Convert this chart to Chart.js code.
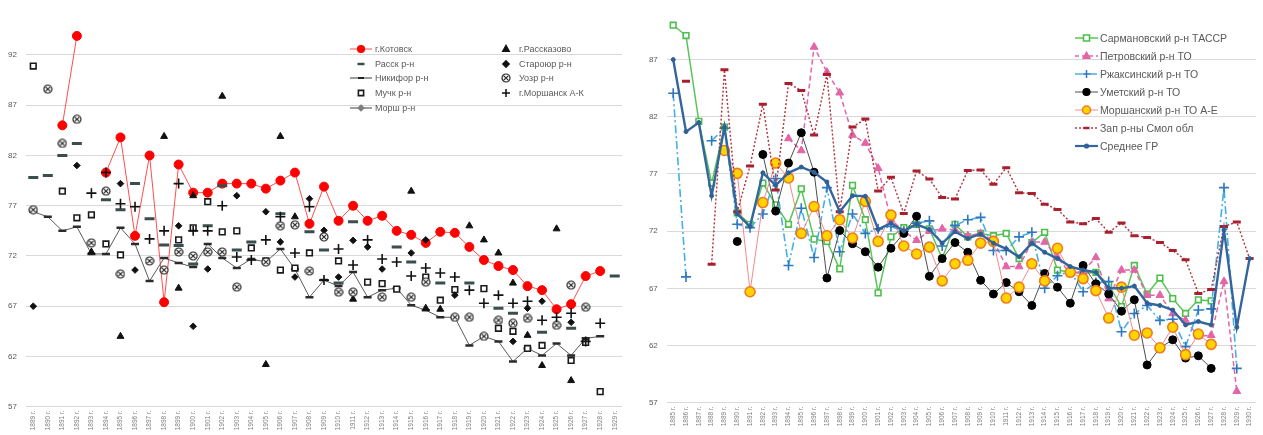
<!DOCTYPE html>
<html><head><meta charset="utf-8">
<script src="https://cdn.jsdelivr.net/npm/chart.js@4/dist/chart.umd.min.js"></script>
<style>
html,body{margin:0;padding:0;background:#fff;width:1263px;height:435px;overflow:hidden;font-family:"Liberation Sans",Arial,sans-serif;}
#wl{position:absolute;left:0;top:0;width:630px;height:435px;}
#wr{position:absolute;left:640px;top:0;width:623px;height:435px;}
.lg{position:absolute;display:flex;align-items:center;color:#595959;white-space:nowrap;}
.lg canvas{display:block;}
</style></head><body>
<div id="wl"><canvas id="cl"></canvas></div>
<div id="wr"><canvas id="cr"></canvas></div>
<div id="legends"></div>
<script>
// ---------- LEFT CHART DATA (1889–1929) ----------
const yearsLeft = [1889,1890,1891,1892,1893,1894,1895,1896,1897,1898,1899,1900,1901,1902,1903,1904,1905,1906,1907,1908,1909,1910,1911,1912,1913,1914,1915,1916,1917,1918,1919,1920,1921,1922,1923,1924,1925,1926,1927,1928,1929];
const kotovsk = [null,null,85.0,93.9,null,80.3,83.8,74.0,82.0,67.4,81.1,78.3,78.3,79.2,79.2,79.2,78.7,79.5,80.3,75.2,78.9,75.5,77.0,75.5,76.0,74.5,74.1,73.3,74.4,74.3,72.9,71.6,71.0,70.6,69.0,68.6,66.7,67.2,70.0,70.5,null];
const rassk = [79.8,80.0,82.0,83.2,null,77.6,76.6,79.2,75.7,73.1,73.05,71.2,75.0,79.0,72.6,73.4,null,76.2,null,74.4,72.6,69.3,75.4,null,null,72.9,71.4,null,69.3,null,69.3,null,66.8,66.3,null,64.4,null,64.8,null,null,70.0];
const nikifor = [76.4,75.9,74.5,74.9,72.2,72.2,74.8,73.2,69.5,71.8,71.3,70.9,73.2,71.8,70.8,71.7,71.4,72.7,70.7,67.9,69.6,69.0,70.4,67.9,68.6,68.8,67.1,66.6,65.9,65.9,63.1,64.0,63.5,61.5,62.8,62.1,63.3,62.1,63.8,64.0,null];
const muchk = [90.9,null,78.45,75.8,76.1,73.2,72.1,null,null,null,73.6,74.8,77.4,74.4,74.5,72.8,71.5,70.6,70.8,72.3,null,71.5,null,69.4,69.25,68.7,null,69.9,67.6,68.65,null,68.75,64.8,64.5,62.8,63.1,null,61.6,63.4,58.5,null];
const morsh = [null,null,null,null,null,null,null,null,null,null,null,null,null,null,null,null,null,null,null,null,null,null,null,null,null,null,null,null,null,null,null,null,null,null,null,null,null,null,null,null,null];
const rasskazovo = [null,null,null,null,72.4,null,64.0,null,null,83.9,68.8,78.0,null,87.9,null,null,61.2,83.9,75.9,null,null,null,67.7,null,null,null,78.45,66.8,66.7,null,75.0,73.6,72.3,69.3,64.1,61.1,74.7,59.6,null,null,null];
const staroyur = [67.0,null,null,81.0,null,null,79.2,70.6,null,null,75.0,65.0,70.7,null,78.0,null,76.4,73.4,69.9,77.7,74.55,69.9,73.55,72.9,70.7,null,72.3,73.6,null,68.1,null,null,null,63.5,66.8,67.5,null,65.4,null,null,null];
const uozr = [76.6,88.6,83.2,85.6,73.3,78.45,70.2,null,71.5,70.6,72.4,72.0,72.4,72.4,68.9,null,71.4,75.0,75.1,70.5,73.9,68.4,68.4,null,67.9,null,67.9,69.4,null,65.9,65.9,64.0,65.6,65.3,65.8,null,65.1,69.1,66.9,null,null];
const morshanskAK = [null,null,null,null,78.25,80.3,77.2,76.9,73.7,74.5,79.2,74.5,74.5,77.0,71.9,71.6,73.6,75.9,72.3,76.9,69.6,72.7,71.1,73.6,71.7,71.4,70.0,70.8,70.3,69.9,68.6,67.3,68.1,67.3,67.5,65.6,65.9,66.3,63.5,65.3,null];
const leftTicks = [57,62,67,72,77,82,87,92];

// ---------- RIGHT CHART DATA (1885–1930) ----------
const yearsRight = [1885,1886,1887,1888,1889,1890,1891,1892,1893,1894,1895,1896,1897,1898,1899,1900,1901,1902,1903,1904,1905,1906,1907,1908,1909,1910,1911,1912,1913,1914,1915,1916,1917,1918,1919,1920,1921,1922,1923,1924,1925,1926,1927,1928,1929,1930];
const sarman = [90.0,89.1,81.6,76.2,81.1,73.6,72.6,76.2,74.3,72.6,75.7,71.3,71.1,68.7,76.0,73.0,66.6,71.5,72.3,72.6,72.2,69.6,72.6,71.5,71.8,71.6,71.8,69.6,71.0,71.9,68.6,68.4,68.3,68.4,67.3,65.4,69.0,66.5,67.9,66.1,64.8,66.0,65.9,null,null,null];
const petrov = [null,null,null,null,null,null,null,null,null,80.1,79.05,88.1,85.9,84.1,80.4,79.7,77.5,73.0,72.0,71.2,72.0,72.2,72.1,71.6,71.8,71.2,68.9,68.9,71.05,71.05,69.7,68.3,68.5,69.7,66.1,68.6,68.6,66.4,66.4,64.8,64.2,62.8,62.9,67.6,58.0,null];
const rzhaks = [84.05,68.0,null,79.9,81.0,72.6,72.3,73.5,76.6,69.0,74.0,69.7,75.8,70.2,73.5,71.8,72.2,72.4,72.0,72.7,72.9,70.7,72.5,73.0,73.2,70.3,70.3,71.5,71.9,67.0,68.1,68.5,66.7,67.5,67.6,63.2,64.8,65.5,64.2,64.3,61.9,65.1,65.2,75.8,60.0,null];
const umet = [null,null,null,null,null,71.1,null,78.7,73.75,77.95,80.6,77.15,67.9,72.05,70.9,70.2,68.85,70.5,71.8,73.3,68.05,69.6,71.0,70.15,67.7,66.5,67.5,66.7,65.5,68.3,67.1,65.7,69.0,67.4,66.5,65.0,66.0,60.3,61.8,62.5,60.9,61.1,60.0,null,null,null];
const morshAE = [null,null,null,null,79.05,77.05,66.7,74.5,77.95,76.65,71.8,74.15,71.6,73.0,71.4,74.6,71.1,73.4,70.7,70.0,70.6,67.65,69.15,69.45,70.95,71.1,66.15,67.1,69.15,67.65,70.5,68.4,67.85,66.8,64.4,67.1,62.9,63.1,61.8,63.6,61.2,63.0,62.1,null,null,null];
const zapSmol = [null,85.1,null,69.1,86.1,73.7,77.7,83.1,75.6,84.9,84.3,80.4,85.7,73.7,81.1,81.8,75.5,76.7,73.55,77.25,76.55,74.95,74.8,77.3,77.35,76.1,77.55,75.35,75.3,74.35,73.9,72.8,72.65,73.1,71.9,72.7,71.6,71.45,71.0,70.3,69.5,66.55,66.9,72.4,72.8,69.6];
const srednee = [87.0,80.7,81.5,75.1,81.1,73.5,72.4,77.1,76.0,77.1,77.6,77.15,76.3,73.7,75.1,75.05,72.15,72.7,72.0,72.6,72.15,70.95,71.95,71.35,71.75,70.95,70.45,69.75,70.95,70.15,69.6,68.9,68.6,68.4,67.0,67.0,67.2,65.7,65.5,65.1,63.8,64.1,63.8,72.1,63.6,69.6];
const rightTicks = [57,62,67,72,77,82,87];

// ---------- helpers ----------
const FONT = '"Liberation Sans", Arial, sans-serif';
function circX(size, color){
  const c = document.createElement('canvas'); c.width = size; c.height = size;
  const g = c.getContext('2d'); const r = size/2 - 1, m = size/2;
  g.fillStyle = '#fff'; g.strokeStyle = color; g.lineWidth = 1.2;
  g.beginPath(); g.arc(m, m, r, 0, Math.PI*2); g.fill(); g.stroke();
  const d = r*0.62; g.lineWidth = 1.1;
  g.beginPath(); g.moveTo(m-d, m-d); g.lineTo(m+d, m+d); g.moveTo(m+d, m-d); g.lineTo(m-d, m+d); g.stroke();
  return c;
}
const circXImg = circX(10, '#222');
const circXLeg = circX(10, '#222');
const catLabel = y => y + ' г.';

function yScale(min, max, ticks, width){
  return {
    min, max,
    afterBuildTicks: s => { s.ticks = ticks.map(v => ({value: v})); },
    afterFit: s => { s.width = width; },
    grid: {color: '#d9d9d9', lineWidth: 1, drawTicks: false},
    border: {display: false},
    ticks: {color: '#595959', font: {family: FONT, size: 8}, padding: 9}
  };
}
function xScale(height){
  return {
    type: 'category', offset: true,
    afterFit: s => { s.height = height; },
    grid: {display: false, drawTicks: false},
    border: {display: false},
    ticks: {color: '#7f7f7f', font: {family: FONT, size: 6.5}, autoSkip: false, maxRotation: 90, minRotation: 90, padding: 4}
  };
}
function pts(style, color, fill, radius, bw, extra){
  return Object.assign({showLine: false, pointStyle: style, borderColor: color, backgroundColor: fill,
    pointBorderColor: color, pointBackgroundColor: fill, pointRadius: radius, pointBorderWidth: bw,
    pointHoverRadius: radius}, extra || {});
}
// Excel-like stacking: later series drawn on top
function excelOrder(ds){ ds.forEach((d, i) => { d.order = ds.length - i; }); return ds; }

// ---------- LEFT CHART ----------
new Chart(document.getElementById('cl'), {
  type: 'line',
  data: {
    labels: yearsLeft.map(catLabel),
    datasets: excelOrder([
      Object.assign(pts('circle', '#ff0000', '#ff0000', 4.5, 1), {label: 'г.Котовск', data: kotovsk, showLine: true, borderColor: '#ff4d4d', borderWidth: 1, spanGaps: false}),
      pts('line', '#3b4d4d', '#3b4d4d', 5, 3, {label: 'Расск р-н', data: rassk}),
      Object.assign(pts('line', '#2b2b2b', '#2b2b2b', 4, 2.5), {label: 'Никифор р-н', data: nikifor, showLine: true, borderColor: '#5a5a5a', borderWidth: 1, spanGaps: false}),
      pts('rect', '#1a1a1a', '#ffffff', 4, 1.6, {label: 'Мучк р-н', data: muchk}),
      Object.assign(pts('rectRot', '#7f7f7f', '#7f7f7f', 3.5, 1), {label: 'Морш р-н', data: morsh, showLine: true, borderColor: '#7f7f7f', borderWidth: 1.5}),
      pts('triangle', '#111', '#111', 4, 1, {label: 'г.Рассказово', data: rasskazovo}),
      pts('rectRot', '#111', '#111', 3.3, 1, {label: 'Староюр р-н', data: staroyur}),
      pts(circXImg, '#222', '#fff', 5, 1, {label: 'Уозр р-н', data: uozr}),
      pts('cross', '#111', '#111', 5, 1.6, {label: 'г.Моршанск А-К', data: morshanskAK})
    ])
  },
  options: {
    responsive: true, maintainAspectRatio: false, animation: false,
    layout: {padding: {top: 4, right: 8, left: 0, bottom: 0}},
    plugins: {legend: {display: false}, tooltip: {enabled: false}},
    scales: {x: xScale(28.3), y: yScale(57, 96.1, leftTicks, 26)}
  }
});

// ---------- RIGHT CHART ----------
new Chart(document.getElementById('cr'), {
  type: 'line',
  data: {
    labels: yearsRight.map(catLabel),
    datasets: excelOrder([
      Object.assign(pts('rect', '#4cbf4c', '#ffffff', 4, 1.6), {label: 'Сармановский р-н ТАССР', data: sarman, showLine: true, borderColor: '#59c559', borderWidth: 1.5}),
      Object.assign(pts('triangle', '#e265a6', '#e265a6', 4.5, 1), {label: 'Петровский р-н ТО', data: petrov, showLine: true, borderColor: '#e265a6', borderWidth: 1.5, borderDash: [5, 3]}),
      Object.assign(pts('cross', '#2f77c0', '#2f77c0', 5, 1.6), {label: 'Ржаксинский р-н ТО', data: rzhaks, showLine: true, borderColor: '#45b0e5', borderWidth: 1.6, borderDash: [8, 3, 2, 3]}),
      Object.assign(pts('circle', '#000', '#000', 4, 1), {label: 'Уметский р-н ТО', data: umet, showLine: true, borderColor: '#4d4d4d', borderWidth: 1}),
      Object.assign(pts('circle', '#f07a1e', '#ffd400', 5, 1.6), {label: 'Моршанский р-н ТО А-Е', data: morshAE, showLine: true, borderColor: '#f28a8a', borderWidth: 1}),
      Object.assign(pts('line', '#a8202e', '#a8202e', 4, 3), {label: 'Зап р-ны Смол обл', data: zapSmol, showLine: true, borderColor: '#b0303c', borderWidth: 1.4, borderDash: [2, 2]}),
      Object.assign(pts('circle', '#2f5f96', '#2f5f96', 2, 1), {label: 'Среднее ГР', data: srednee, showLine: true, borderColor: '#34669e', borderWidth: 2.4})
    ])
  },
  options: {
    responsive: true, maintainAspectRatio: false, animation: false,
    layout: {padding: {top: 1.6, right: 0, left: 0, bottom: 0}},
    plugins: {legend: {display: false}, tooltip: {enabled: false}},
    scales: {x: xScale(32.3), y: yScale(57, 91.0, rightTicks, 26.8)}
  }
});

// ---------- HTML LEGENDS ----------
function drawMarker(g, type, x, y, r, stroke, fill, lw){
  g.save(); g.strokeStyle = stroke; g.fillStyle = fill; g.lineWidth = lw; g.setLineDash([]);
  g.beginPath();
  if (type === 'circle'){ g.arc(x, y, r, 0, Math.PI*2); g.fill(); g.stroke(); }
  else if (type === 'rect'){ g.rect(x-r*0.75, y-r*0.75, r*1.5, r*1.5); g.fill(); g.stroke(); }
  else if (type === 'rectRot'){ g.moveTo(x, y-r); g.lineTo(x+r, y); g.lineTo(x, y+r); g.lineTo(x-r, y); g.closePath(); g.fill(); g.stroke(); }
  else if (type === 'triangle'){ g.moveTo(x, y-r); g.lineTo(x+r*0.9, y+r*0.6); g.lineTo(x-r*0.9, y+r*0.6); g.closePath(); g.fill(); g.stroke(); }
  else if (type === 'line'){ g.moveTo(x-r, y); g.lineTo(x+r, y); g.stroke(); }
  else if (type === 'cross'){ g.moveTo(x-r, y); g.lineTo(x+r, y); g.moveTo(x, y-r); g.lineTo(x, y+r); g.stroke(); }
  else if (type === 'circX'){ g.drawImage(circXLeg, x-5, y-5); }
  g.restore();
}
function addLegend(items, left, top, rowH, fontSize, symW, gap){
  const host = document.getElementById('legends');
  items.forEach((it, k) => {
    const d = document.createElement('div'); d.className = 'lg';
    d.style.left = left + 'px'; d.style.top = (top + k*rowH - 7) + 'px'; d.style.height = '14px';
    d.style.fontSize = fontSize + 'px';
    const c = document.createElement('canvas'); c.width = symW; c.height = 14;
    const g = c.getContext('2d');
    if (it.line){
      g.strokeStyle = it.line; g.lineWidth = it.lw || 1.5; g.setLineDash(it.dash || []);
      g.beginPath(); g.moveTo(0, 7); g.lineTo(symW, 7); g.stroke();
    }
    drawMarker(g, it.m, symW/2, 7, it.r, it.stroke, it.fill, it.mlw || 1.2);
    const s = document.createElement('span'); s.textContent = it.t; s.style.marginLeft = gap + 'px';
    d.appendChild(c); d.appendChild(s); host.appendChild(d);
  });
}
addLegend([
  {t: 'г.Котовск', m: 'circle', r: 3.5, stroke: '#ff0000', fill: '#ff0000', line: '#ff4d4d', lw: 1},
  {t: 'Расск р-н', m: 'line', r: 3.5, stroke: '#3b4d4d', fill: '#3b4d4d', mlw: 2.5},
  {t: 'Никифор р-н', m: 'line', r: 3, stroke: '#222', fill: '#222', mlw: 2, line: '#3a3a3a', lw: 1},
  {t: 'Мучк р-н', m: 'rect', r: 3.5, stroke: '#1a1a1a', fill: '#fff', mlw: 1.6},
  {t: 'Морш р-н', m: 'rectRot', r: 3, stroke: '#7f7f7f', fill: '#7f7f7f', line: '#7f7f7f', lw: 1.5}
], 350, 49, 14.7, 9, 22, 3);
addLegend([
  {t: 'г.Рассказово', m: 'triangle', r: 3.8, stroke: '#111', fill: '#111'},
  {t: 'Староюр р-н', m: 'rectRot', r: 3.3, stroke: '#111', fill: '#111'},
  {t: 'Уозр р-н', m: 'circX', r: 4, stroke: '#222', fill: '#fff'},
  {t: 'г.Моршанск А-К', m: 'cross', r: 4, stroke: '#111', fill: '#111', mlw: 1.5}
], 495, 49, 14.7, 9, 22, 2);
addLegend([
  {t: 'Сармановский р-н ТАССР', m: 'rect', r: 4, stroke: '#4cbf4c', fill: '#fff', mlw: 1.6, line: '#59c559', lw: 1.5},
  {t: 'Петровский р-н ТО', m: 'triangle', r: 4, stroke: '#e265a6', fill: '#e265a6', line: '#e265a6', lw: 1.5, dash: [4, 3]},
  {t: 'Ржаксинский р-н ТО', m: 'cross', r: 4, stroke: '#2f77c0', fill: '#2f77c0', mlw: 1.5, line: '#45b0e5', lw: 1.5, dash: [7, 3, 2, 3]},
  {t: 'Уметский р-н ТО', m: 'circle', r: 3.5, stroke: '#000', fill: '#000', line: '#4d4d4d', lw: 1},
  {t: 'Моршанский р-н ТО А-Е', m: 'circle', r: 4, stroke: '#f07a1e', fill: '#ffd400', mlw: 1.5, line: '#f28a8a', lw: 1},
  {t: 'Зап р-ны Смол обл', m: 'line', r: 3, stroke: '#a8202e', fill: '#a8202e', mlw: 2.5, line: '#b0303c', lw: 1.4, dash: [2, 2]},
  {t: 'Среднее ГР', m: 'circle', r: 2, stroke: '#2f5f96', fill: '#2f5f96', line: '#34669e', lw: 2.2}
], 1075, 37.7, 18, 10.5, 23, 2);
</script>
</body></html>
